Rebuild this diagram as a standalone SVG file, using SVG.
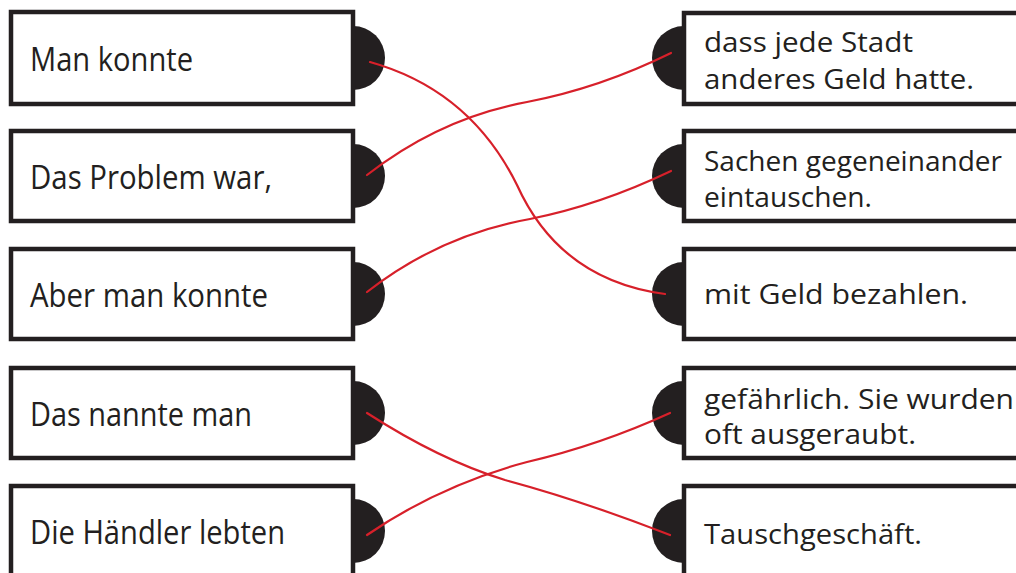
<svg xmlns="http://www.w3.org/2000/svg" width="1016" height="573" viewBox="0 0 1016 573">
<style>
.box{fill:#fff;stroke:#231f20;stroke-width:4.5}
.knob{fill:#231f20}
.lt{font-family:"Open Sans","DejaVu Sans",sans-serif;font-size:32px;fill:#231f20}
.rt{font-family:"Open Sans","DejaVu Sans",sans-serif;font-size:26.5px;fill:#231f20}
.link{fill:none;stroke:#d7202a;stroke-width:2.2;stroke-linecap:round}
</style>
<rect width="1016" height="573" fill="#fff"/>
<g id="left-1">
<path class="knob" d="M353,26 A32,32 0 0,1 353,90 Z"/>
<rect class="box" x="11" y="12" width="342" height="92"/>
<text class="lt" x="30" y="71" textLength="163" lengthAdjust="spacingAndGlyphs">Man konnte</text>
</g>
<g id="left-2">
<path class="knob" d="M353,144 A32,32 0 0,1 353,208 Z"/>
<rect class="box" x="11" y="131" width="342" height="90"/>
<text class="lt" x="30" y="189" textLength="242" lengthAdjust="spacingAndGlyphs">Das Problem war,</text>
</g>
<g id="left-3">
<path class="knob" d="M353,262 A32,32 0 0,1 353,326 Z"/>
<rect class="box" x="11" y="249" width="342" height="90"/>
<text class="lt" x="30" y="307" textLength="238" lengthAdjust="spacingAndGlyphs">Aber man konnte</text>
</g>
<g id="left-4">
<path class="knob" d="M353,381 A32,32 0 0,1 353,445 Z"/>
<rect class="box" x="11" y="368" width="342" height="90"/>
<text class="lt" x="30" y="426" textLength="222" lengthAdjust="spacingAndGlyphs">Das nannte man</text>
</g>
<g id="left-5">
<path class="knob" d="M353,499 A32,32 0 0,1 353,563 Z"/>
<rect class="box" x="11" y="486" width="342" height="120"/>
<text class="lt" x="30" y="544" textLength="255" lengthAdjust="spacingAndGlyphs">Die Händler lebten</text>
</g>
<g id="right-1">
<path class="knob" d="M684,26 A32,32 0 0,0 684,90 Z"/>
<rect class="box" x="684" y="13" width="360" height="91"/>
<text class="rt" x="704" y="52" textLength="209" lengthAdjust="spacingAndGlyphs">dass jede Stadt</text>
<text class="rt" x="704" y="89" textLength="270" lengthAdjust="spacingAndGlyphs">anderes Geld hatte.</text>
</g>
<g id="right-2">
<path class="knob" d="M684,144 A32,32 0 0,0 684,208 Z"/>
<rect class="box" x="684" y="131" width="360" height="90"/>
<text class="rt" x="704" y="171" textLength="298" lengthAdjust="spacingAndGlyphs">Sachen gegeneinander</text>
<text class="rt" x="704" y="207" textLength="168" lengthAdjust="spacingAndGlyphs">eintauschen.</text>
</g>
<g id="right-3">
<path class="knob" d="M684,262 A32,32 0 0,0 684,326 Z"/>
<rect class="box" x="684" y="249" width="360" height="90"/>
<text class="rt" x="704" y="304" textLength="264" lengthAdjust="spacingAndGlyphs">mit Geld bezahlen.</text>
</g>
<g id="right-4">
<path class="knob" d="M684,381 A32,32 0 0,0 684,445 Z"/>
<rect class="box" x="684" y="368" width="360" height="90"/>
<text class="rt" x="704" y="409" textLength="310" lengthAdjust="spacingAndGlyphs">gefährlich. Sie wurden</text>
<text class="rt" x="704" y="444" textLength="212" lengthAdjust="spacingAndGlyphs">oft ausgeraubt.</text>
</g>
<g id="right-5">
<path class="knob" d="M684,499 A32,32 0 0,0 684,563 Z"/>
<rect class="box" x="684" y="486" width="360" height="120"/>
<text class="rt" x="704" y="544" textLength="218" lengthAdjust="spacingAndGlyphs">Tauschgeschäft.</text>
</g>
<g id="connectors">
<path class="link" d="M370,62 Q470,90 517,185 Q560,280 665,294"/>
<path class="link" d="M367,175 Q440,118 527,102 Q600,88 671,53"/>
<path class="link" d="M367,292 Q440,235 530,219 Q600,205 671,171"/>
<path class="link" d="M367,413 Q440,460 505,480 Q580,500 670,535"/>
<path class="link" d="M367,535 Q440,485 527,462 Q600,445 670,413"/>
</g>
</svg>
